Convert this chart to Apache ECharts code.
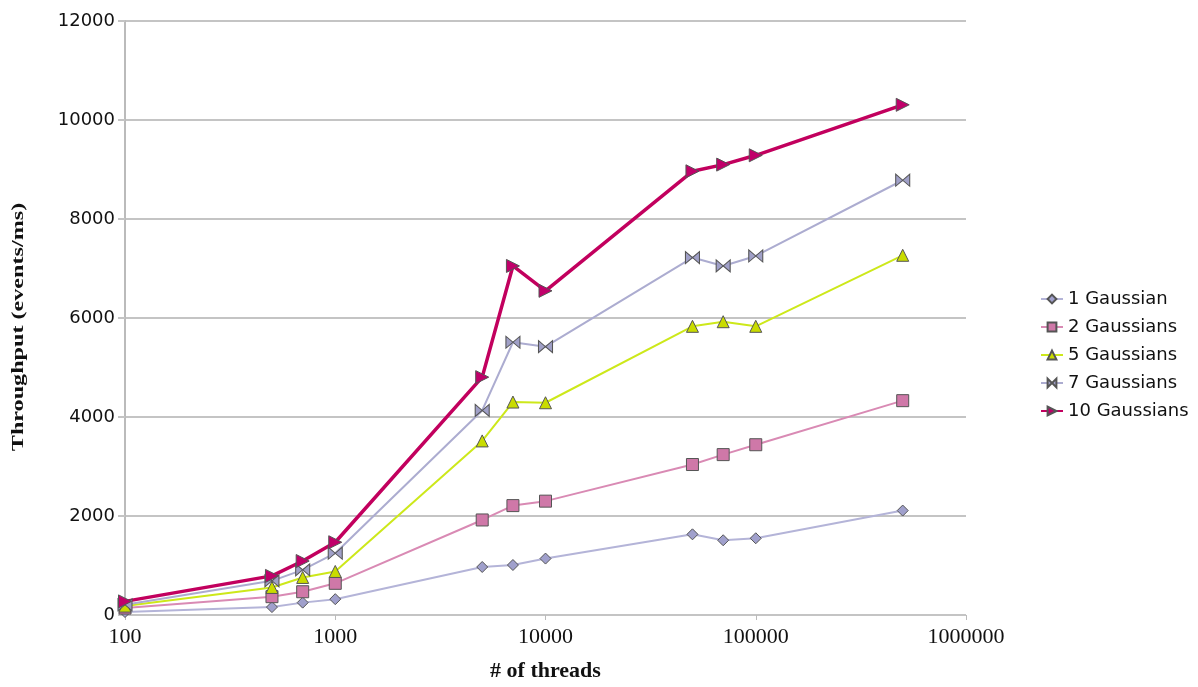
<!DOCTYPE html>
<html>
<head>
<meta charset="utf-8">
<script src="https://cdn.jsdelivr.net/npm/echarts@6/dist/echarts.min.js"></script>
<style>
  html, body { margin: 0; padding: 0; background: #ffffff; }
  #chart { width: 1198px; height: 687px; }
</style>
</head>
<body>
<div id="chart"></div>
<script>
// Thread counts (x) and measured throughput per model size (events/ms)
const threads = [100, 500, 700, 1000, 5000, 7000, 10000, 50000, 70000, 100000, 500000];
const gauss1  = [60, 160, 250, 320, 970, 1010, 1140, 1630, 1510, 1550, 2110];
const gauss2  = [140, 370, 470, 640, 1920, 2210, 2300, 3040, 3240, 3440, 4330];
const gauss5  = [180, 557, 759, 880, 3517, 4302, 4288, 5832, 5925, 5832, 7267];
const gauss7  = [207, 690, 912, 1248, 4133, 5510, 5421, 7221, 7052, 7253, 8783];
const gauss10 = [275, 790, 1090, 1470, 4805, 7052, 6549, 8964, 9099, 9287, 10307];
const seriesNames = ['1 Gaussian', '2 Gaussians', '5 Gaussians', '7 Gaussians', '10 Gaussians'];
const yTicks = [0, 2000, 4000, 6000, 8000, 10000, 12000];
const xTitle = '# of threads';
const yTitle = 'Throughput (events/ms)';

// Hourglass marker used for the 7-Gaussian series
const bowtie = 'path://M0,0 L0,10 L10,5 Z M20,0 L20,10 L10,5 Z';

function pairs(vals) { return threads.map((t, i) => [t, vals[i]]); }

function mkSeries(name, vals, lineColor, markColor, symbol, opts) {
  return Object.assign({
    name: name,
    type: 'line',
    data: pairs(vals),
    symbol: symbol,
    symbolSize: 11,
    showAllSymbol: true,
    lineStyle: { color: lineColor, width: 2 },
    itemStyle: { color: markColor, borderColor: '#555555', borderWidth: 1 },
    emphasis: { disabled: true },
    animation: false
  }, opts || {});
}

const chart = echarts.init(document.getElementById('chart'));
chart.setOption({
  animation: false,
  backgroundColor: '#ffffff',
  grid: { left: 125, right: 232, top: 21, bottom: 58, containLabel: false },
  legend: {
    orient: 'vertical',
    left: 1035,
    top: 285,
    itemWidth: 22,
    itemHeight: 11,
    itemGap: 10,
    textStyle: { fontFamily: 'DejaVu Sans', fontSize: 18, color: '#111111' },
    data: seriesNames
  },
  // Vertical title, drawn stretched along its length
  graphic: [{
    type: 'text',
    x: 19,
    y: 327,
    rotation: Math.PI / 2,
    scaleX: 1.42,
    scaleY: 1,
    silent: true,
    style: {
      text: yTitle,
      fontFamily: 'Liberation Serif',
      fontWeight: 'bold',
      fontSize: 17,
      fill: '#111111',
      align: 'center',
      verticalAlign: 'middle'
    }
  }],
  xAxis: {
    type: 'log',
    logBase: 10,
    min: 100,
    max: 1000000,
    name: xTitle,
    nameLocation: 'middle',
    nameGap: 45,
    nameTextStyle: { fontFamily: 'Liberation Serif', fontWeight: 'bold', fontSize: 22, color: '#111111' },
    axisLine: { show: false },
    axisTick: { show: true, length: 5, lineStyle: { color: '#bbbbbb' } },
    minorTick: { show: false },
    splitLine: { show: false },
    axisLabel: {
      fontFamily: 'Liberation Serif', fontSize: 22, color: '#111111', margin: 11,
      formatter: v => String(Math.round(v))
    }
  },
  yAxis: {
    type: 'value',
    min: 0,
    max: 12000,
    interval: 2000,
    axisLine: { show: true, lineStyle: { color: '#bbbbbb', width: 2 } },
    axisTick: { show: true, length: 7, lineStyle: { color: '#c4c4c4', width: 2 } },
    splitLine: { show: true, lineStyle: { color: '#c4c4c4', width: 2 } },
    axisLabel: {
      fontFamily: 'DejaVu Sans', fontSize: 18, color: '#111111', margin: 10,
      formatter: v => yTicks.indexOf(v) >= 0 ? String(v) : ''
    }
  },
  series: [
    mkSeries(seriesNames[0], gauss1, '#b4b4d8', '#a0a0cc', 'diamond', { symbolSize: 11 }),
    mkSeries(seriesNames[1], gauss2, '#d98ab4', '#cf78a8', 'rect', { symbolSize: 12 }),
    mkSeries(seriesNames[2], gauss5, '#cde81a', '#c9dc00', 'triangle', { symbolSize: 12 }),
    mkSeries(seriesNames[3], gauss7, '#acacd0', '#a0a0c8', bowtie, { symbolSize: [14, 12] }),
    mkSeries(seriesNames[4], gauss10, '#c2005e', '#c0006a', 'triangle',
      { symbolSize: 13, symbolRotate: -90, lineStyle: { color: '#c2005e', width: 3.5 } })
  ]
});
</script>
</body>
</html>
